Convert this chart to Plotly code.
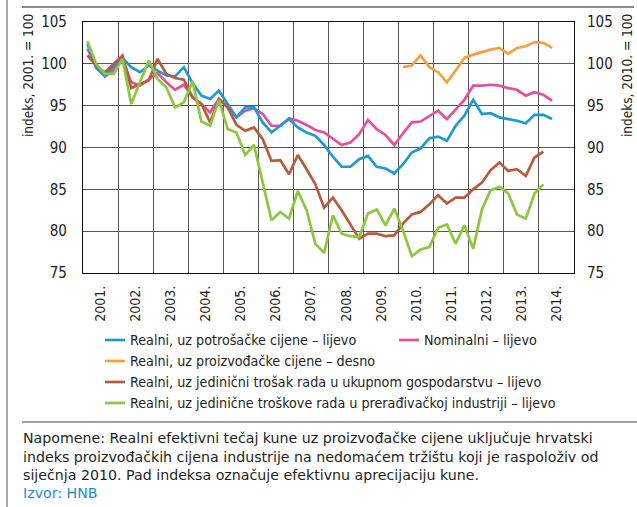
import plotly.graph_objects as go

# ---------------- data ----------------
year_labels = ["2001.", "2002.", "2003.", "2004.", "2005.", "2006.", "2007.",
               "2008.", "2009.", "2010.", "2011.", "2012.", "2013.", "2014."]
periods = [f"{y}Q{q}" for y in range(2001, 2015) for q in range(1, 5)][:54]

real_cpi = [102.4, 99.5, 98.6, 99.6, 100.7, 99.6, 99.0, 99.8, 99.2, 98.6, 98.5, 99.6,
            97.7, 96.2, 95.8, 96.8, 95.2, 93.6, 94.8, 94.8, 93.0, 91.8, 92.6, 93.4,
            92.4, 91.8, 91.4, 90.3, 88.9, 87.7, 87.7, 88.6, 89.0, 87.7, 87.5, 86.9,
            88.0, 89.4, 89.9, 91.1, 91.3, 90.8, 92.6, 93.8, 95.7, 94.0, 94.1, 93.6,
            93.4, 93.2, 92.9, 93.9, 93.9, 93.4]
nominal = [101.8, 99.6, 98.5, 99.2, 100.6, 97.8, 97.4, 98.2, 98.9, 97.8, 96.9, 97.5,
           96.0, 95.2, 94.2, 95.8, 94.8, 93.6, 94.4, 94.7, 94.0, 92.6, 92.6, 93.5,
           93.2, 92.7, 92.1, 91.8, 91.0, 90.3, 90.6, 91.6, 93.3, 92.2, 91.5, 90.3,
           91.7, 93.0, 93.1, 93.8, 94.4, 93.4, 94.6, 95.7, 97.4, 97.4, 97.5, 97.4,
           97.1, 96.9, 96.2, 96.6, 96.3, 95.6]
real_ppi = [99.6, 99.8, 101.0, 99.6, 99.0, 97.8, 99.2, 100.7, 101.1, 101.4, 101.7,
            101.9, 101.2, 101.9, 102.1, 102.6, 102.5, 101.9]
ppi_start = "2010Q1"
real_ulc_total = [101.0, 99.8, 99.0, 100.0, 101.0, 97.1, 97.6, 98.0, 100.6, 98.8, 98.3, 98.1,
                  96.0, 95.2, 93.0, 95.8, 94.8, 92.7, 92.0, 92.4, 91.0, 88.4, 88.5, 86.8,
                  89.1, 87.4, 85.6, 82.8, 84.0, 82.5, 80.8, 79.1, 79.7, 79.7, 79.4, 79.5,
                  80.9, 82.0, 82.3, 83.2, 84.3, 83.3, 84.0, 84.0, 85.0, 85.8, 87.3, 88.2,
                  87.2, 87.4, 86.6, 88.8, 89.5]
real_ulc_manuf = [102.7, 100.0, 98.8, 98.8, 100.6, 95.2, 97.8, 100.4, 98.2, 97.2, 94.8, 95.4,
                  97.9, 93.1, 92.6, 95.7, 92.2, 91.8, 89.1, 90.3, 85.8, 81.3, 82.3, 81.5,
                  84.8, 82.5, 78.5, 77.4, 81.9, 79.7, 79.4, 79.3, 82.1, 82.6, 80.7, 82.7,
                  80.1, 77.0, 77.8, 78.1, 80.4, 80.8, 78.5, 80.7, 77.9, 82.6, 84.9, 85.3,
                  84.5, 82.0, 81.5, 84.5, 85.6]

y_ticks = [75, 80, 85, 90, 95, 100, 105]

names = ["Realni, uz potrošačke cijene – lijevo",
         "Nominalni – lijevo",
         "Realni, uz proizvođačke cijene – desno",
         "Realni, uz jedinični trošak rada u ukupnom gospodarstvu – lijevo",
         "Realni, uz jedinične troškove rada u prerađivačkoj industriji – lijevo"]
colors = ["#1d9ad6", "#e3519a", "#f8a040", "#b95a3c", "#8dc63f"]

notes = ["Napomene: Realni efektivni tečaj kune uz proizvođačke cijene uključuje hrvatski",
         "indeks proizvođačkih cijena industrije na nedomaćem tržištu koji je raspoloživ od",
         "siječnja 2010. Pad indeksa označuje efektivnu aprecijaciju kune."]
source = "Izvor: HNB"


def qpos(p):
    y, q = p.split("Q")
    return int(y) + (int(q) - 0.5) / 4


x_all = [qpos(p) for p in periods]
i0 = periods.index(ppi_start)
x_ppi = [qpos(p) for p in periods[i0:i0 + len(real_ppi)]]

# ---------------- layout constants ----------------
W, H = 637, 507
L, R, T, B = 83, 574, 22, 273
NARROW = "DejaVu Sans Condensed, Liberation Sans Narrow, Arial Narrow, sans-serif"
WIDE = "DejaVu Sans, Liberation Sans, Arial, sans-serif"
TXT = "#231f20"


def px(xp):
    return (xp - L) / (R - L)


def py(yp):
    return (B - yp) / (B - T)


fig = go.Figure()
series = [(x_all[:len(real_cpi)], real_cpi, "y"),
          (x_all[:len(nominal)], nominal, "y"),
          (x_ppi, real_ppi, "y2"),
          (x_all[:len(real_ulc_total)], real_ulc_total, "y"),
          (x_all[:len(real_ulc_manuf)], real_ulc_manuf, "y")]
for k in [1, 0, 3, 2, 4]:
    xs, ys, ax = series[k]
    fig.add_trace(go.Scatter(x=xs, y=ys, mode="lines", name=names[k], yaxis=ax,
                             line=dict(color=colors[k], width=2.7), showlegend=False))

fig.update_layout(
    width=W, height=H,
    margin=dict(l=L, r=W - R, t=T, b=H - B, pad=0),
    paper_bgcolor="white", plot_bgcolor="white",
    font=dict(family=NARROW, size=14, color=TXT),
    xaxis=dict(range=[2001, 2015], tickmode="array",
               tickvals=[2001.5 + i for i in range(len(year_labels))],
               ticktext=year_labels, tickangle=-90, ticks="", showgrid=False,
               ticklabelstandoff=6,
               minor=dict(tickmode="array", tickvals=list(range(2002, 2015)),
                          showgrid=True, gridcolor="#555555", gridwidth=1, ticks=""),
               showline=True, linecolor="#111111", linewidth=1.2, mirror=True,
               zeroline=False, tickfont=dict(size=14)),
    yaxis=dict(range=[75, 105], tickmode="array", tickvals=y_ticks, ticks="",
               showgrid=True, gridcolor="#555555", gridwidth=1,
               showline=True, linecolor="#111111", linewidth=1.2, mirror=True,
               zeroline=False, ticklabelstandoff=12, tickfont=dict(size=15)),
    yaxis2=dict(range=[75, 105], tickmode="array", tickvals=y_ticks, ticks="",
                overlaying="y", side="right", showgrid=False, zeroline=False,
                showline=False, ticklabelstandoff=12, tickfont=dict(size=15)),
    showlegend=False,
)

shapes = []
annotations = []
# frame lines
shapes.append(dict(type="line", xref="paper", yref="paper", x0=px(22), x1=px(634),
                   y0=py(7), y1=py(7), line=dict(color="#8a8a8a", width=1.8)))
shapes.append(dict(type="line", xref="paper", yref="paper", x0=px(7), x1=px(7),
                   y0=py(0), y1=py(H), line=dict(color="#8a8a8a", width=1.5)))
shapes.append(dict(type="line", xref="paper", yref="paper", x0=px(22), x1=px(W),
                   y0=py(422), y1=py(422), line=dict(color="#444444", width=1.2)))

# axis titles
annotations.append(dict(text="indeks, 2001. = 100", xref="paper", yref="paper",
                        x=px(28), y=py(76), textangle=-90, showarrow=False,
                        xanchor="center", yanchor="middle", font=dict(size=13.5)))
annotations.append(dict(text="indeks, 2010. = 100", xref="paper", yref="paper",
                        x=px(627), y=py(76), textangle=-90, showarrow=False,
                        xanchor="center", yanchor="middle", font=dict(size=13.5)))

# legend (manual)
leg = [(0, 105, 340), (1, 399, 340), (2, 105, 361), (3, 105, 382), (4, 105, 403)]
for k, xs0, yc in leg:
    shapes.append(dict(type="line", xref="paper", yref="paper", x0=px(xs0), x1=px(xs0 + 20),
                       y0=py(yc), y1=py(yc), line=dict(color=colors[k], width=2.7)))
    annotations.append(dict(text=names[k], xref="paper", yref="paper", x=px(xs0 + 23),
                            y=py(yc), xanchor="left", yanchor="middle", showarrow=False,
                            font=dict(size=14.2)))

# notes
for t, yc in zip(notes, [438, 457, 475]):
    annotations.append(dict(text=t, xref="paper", yref="paper", x=px(21), y=py(yc),
                            xanchor="left", yanchor="middle", showarrow=False,
                            font=dict(family=WIDE, size=14.2, color=TXT)))
annotations.append(dict(text=source, xref="paper", yref="paper", x=px(21), y=py(493),
                        xanchor="left", yanchor="middle", showarrow=False,
                        font=dict(family=WIDE, size=14.2, color="#1d8fd0")))

fig.update_layout(shapes=shapes, annotations=annotations)
fig.write_html("out.html", config={"displayModeBar": False},
               post_script="document.body.style.margin='0';document.body.style.overflow='hidden';")
